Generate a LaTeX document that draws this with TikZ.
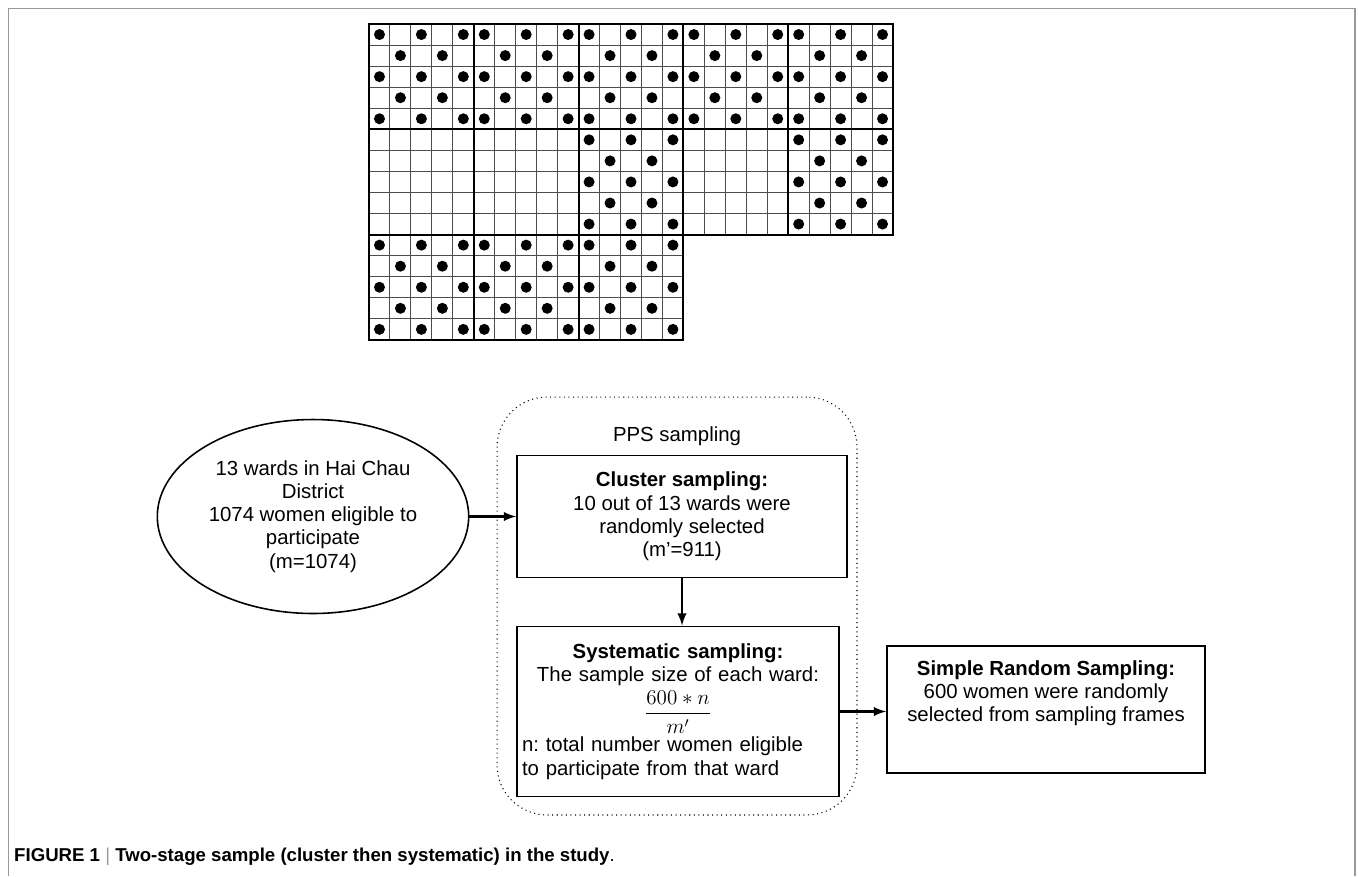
\documentclass[tikz,border=0pt]{standalone}
\usepackage[no-math]{fontspec}
\setmainfont{Liberation Sans}
\usepackage{amsmath}
\usepackage{tikz}
\usetikzlibrary{arrows}
\usetikzlibrary{shapes}
\usetikzlibrary{shapes.geometric}
\usetikzlibrary{positioning}
\frenchspacing

\tikzset{
  stagebox/.style={rectangle, draw=black, line width=1.1pt, align=center},
  cellline/.style={draw=black!70, line width=0.6pt},
  blockline/.style={draw=black, line width=1.2pt},
  flowarrow/.style={-latex, line width=1.4pt},
}

\begin{document}
\begin{tikzpicture}[x=0.02cm, y=-0.02cm, font=\fontsize{11.6}{13.2}\selectfont]
\useasboundingbox (0,0) rectangle (1358,876);
\draw [draw=black!40, line width=0.8pt] (8.5,876) -- (8.5,8.5) -- (1355,8.5) -- (1355,876);

% wards as blocks of 5x5 cells, \full=1 when the block is sampled
\foreach \bx/\by/\full in {0/0/1,1/0/1,2/0/1,3/0/1,4/0/1,0/1/0,1/1/0,2/1/1,3/1/0,4/1/1,0/2/1,1/2/1,2/2/1} {
  \pgfmathsetmacro\xo{369+104.8*\bx}
  \pgfmathsetmacro\yo{24+105.3*\by}
  \foreach \i in {1,...,4} {
    \draw [cellline] (\xo+\i*20.96, \yo) -- (\xo+\i*20.96, \yo+105.3);
    \draw [cellline] (\xo, \yo+\i*21.06) -- (\xo+104.8, \yo+\i*21.06);
  }
  \draw [blockline] (\xo, \yo) rectangle (\xo+104.8, \yo+105.3);
  \ifnum\full=1
    \foreach \col/\row in {0/0,2/0,4/0,1/1,3/1,0/2,2/2,4/2,1/3,3/3,0/4,2/4,4/4}
      \fill [black] (\xo+\col*20.96+10.48, \yo+\row*21.06+10.53) circle (0.11cm);
  \fi
}

% flow of the sampling
\node [ellipse, draw=black, line width=0.9pt, minimum width=6.2cm, minimum height=3.88cm, align=center] (wards) at (313,516.5) {13 wards in Hai Chau\\ District\\ 1074 women eligible to\\ participate\\ (m=1074)};
\node [rectangle, draw=black, dotted, line width=0.6pt, rounded corners=1cm, minimum width=7.2cm, minimum height=8.36cm] (pps) at (677,606) {};
\node (ppslabel) at (677,436) {PPS sampling};
\node [stagebox, minimum width=6.6cm, minimum height=2.44cm] (cluster) at (682,516.5) {\textbf{Cluster sampling:}\\ 10 out of 13 wards were\\ randomly selected\\ (m’=911)};
\node [stagebox, minimum height=3.4cm, text width=6.24cm, inner sep=0.1cm, align=left] (system) at (678,711.5) {\makebox[\linewidth][c]{\textbf{Systematic sampling:}}\\ \makebox[\linewidth][c]{The sample size of each ward:}\\[2pt] \makebox[\linewidth][c]{$\dfrac{600 \ast n}{m'}$}\\[1pt] n: total number women eligible\\ to participate from that ward};
\node [stagebox, minimum width=6.36cm, minimum height=2.54cm] (srs) at (1046,709.5) {};
\node [align=center, below=0.18cm of srs.north] (srstext) {\textbf{Simple Random Sampling:}\\ 600 women were randomly\\ selected from sampling frames};

\draw [flowarrow] (wards.east) -- (cluster.west);
\draw [flowarrow] (cluster.south) -- (cluster.south |- system.north);
\draw [flowarrow] (system.east) -- (system.east -| srs.west);

\node [anchor=base west, font=\fontsize{10.6}{12}\selectfont] (caption) at (8,861) {\textbf{FIGURE 1} {\color{black!40}|} \textbf{Two-stage sample (cluster then systematic) in the study}.};
\end{tikzpicture}
\end{document}
